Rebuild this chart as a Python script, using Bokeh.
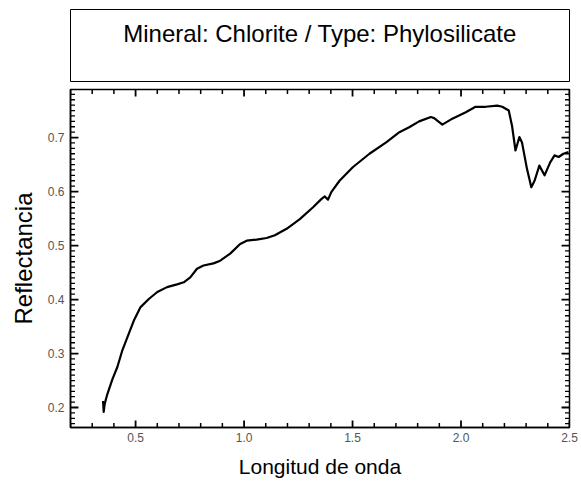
import numpy as np
from bokeh.plotting import figure
from bokeh.layouts import column
from bokeh.models import LinearAxis, SingleIntervalTicker, Range1d, ColumnDataSource, PrintfTickFormatter
from bokeh.core.properties import value
from bokeh.embed import file_html
from bokeh.resources import INLINE

title_text = ["Mineral: Chlorite / Type: Phylosilicate"]
x_label = "Longitud de onda"
y_label = "Reflectancia"

wavelength = [0.350, 0.353, 0.357, 0.363, 0.370, 0.393, 0.416, 0.439, 0.462, 0.492,
              0.523, 0.561, 0.600, 0.645, 0.691, 0.722, 0.752, 0.783, 0.813, 0.859,
              0.890, 0.936, 0.982, 1.012, 1.058, 1.104, 1.142, 1.196, 1.257, 1.318,
              1.356, 1.372, 1.387, 1.402, 1.440, 1.501, 1.578, 1.655, 1.716, 1.761,
              1.807, 1.861, 1.876, 1.914, 1.960, 2.022, 2.067, 2.113, 2.167, 2.190,
              2.220, 2.235, 2.251, 2.269, 2.281, 2.304, 2.324, 2.339, 2.361, 2.385,
              2.411, 2.431, 2.450, 2.472, 2.495]
reflectance = [0.212, 0.192, 0.205, 0.215, 0.225, 0.252, 0.275, 0.306, 0.330, 0.361,
               0.386, 0.401, 0.414, 0.423, 0.428, 0.432, 0.441, 0.457, 0.463, 0.467,
               0.472, 0.485, 0.503, 0.509, 0.511, 0.514, 0.519, 0.531, 0.549, 0.571,
               0.586, 0.591, 0.585, 0.599, 0.620, 0.645, 0.670, 0.691, 0.710, 0.719,
               0.730, 0.738, 0.736, 0.724, 0.735, 0.747, 0.757, 0.757, 0.759, 0.757,
               0.750, 0.722, 0.676, 0.701, 0.691, 0.642, 0.608, 0.620, 0.648, 0.630,
               0.654, 0.667, 0.664, 0.670, 0.673]

X_START, X_END = 0.2, 2.5
Y_START, Y_END = 0.163, 0.789
X_MAJOR, X_MINOR = 0.5, 0.1
Y_MAJOR, Y_MINOR = 0.1, 0.01

FONT = "Liberation Sans"
W = 578
FRAME_W, FRAME_H = 501, 338

# Title box
t = figure(width=W, height=84, output_backend="svg", toolbar_location=None,
           x_range=Range1d(0, 1), y_range=Range1d(0, 1),
           x_axis_location=None, y_axis_location=None,
           min_border_left=67, min_border_right=9, min_border_top=9, min_border_bottom=3)
t.grid.visible = False
t.outline_line_color = "black"
t.outline_line_width = 1
t.text(x=[0.5], y=[0.667], text=title_text, text_font=value(FONT), text_font_size="24px",
       text_align="center", text_baseline="middle", text_color="black")

# Main plot
p = figure(width=W, height=396, output_backend="svg", toolbar_location=None,
           x_range=Range1d(X_START, X_END), y_range=Range1d(Y_START, Y_END),
           x_axis_location=None, y_axis_location=None,
           min_border_left=70, min_border_right=4, min_border_top=5, min_border_bottom=50)
p.grid.visible = False
p.outline_line_color = "black"
p.outline_line_width = 1.5

src = ColumnDataSource(dict(x=wavelength, y=reflectance))
p.line("x", "y", source=src, line_color="black", line_width=2.2, line_join="round")

# inward tick marks on all four edges, from the tick intervals
x_all = np.round(np.arange(np.ceil(X_START / X_MINOR) * X_MINOR, X_END + 1e-9, X_MINOR), 3)
x_maj = np.array([v for v in x_all if abs(v / X_MAJOR - round(v / X_MAJOR)) < 1e-6])
x_min = np.array([v for v in x_all if abs(v / X_MAJOR - round(v / X_MAJOR)) >= 1e-6])
y_all = np.round(np.arange(np.ceil(Y_START / Y_MINOR) * Y_MINOR, Y_END + 1e-9, Y_MINOR), 3)
y_maj = np.array([v for v in y_all if abs(v / Y_MAJOR - round(v / Y_MAJOR)) < 1e-6])
y_min = np.array([v for v in y_all if abs(v / Y_MAJOR - round(v / Y_MAJOR)) >= 1e-6])

# tick lengths (pixels) converted to data units
ppx = (X_END - X_START) / FRAME_W
ppy = (Y_END - Y_START) / FRAME_H
MAJ, MIN = 7, 4.5

def vticks(xs, y0, sign, n):
    return dict(x0=xs, x1=xs, y0=np.full(len(xs), y0), y1=np.full(len(xs), y0 + sign * n * ppy))

def hticks(ys, x0, sign, n):
    return dict(x0=np.full(len(ys), x0), x1=np.full(len(ys), x0 + sign * n * ppx), y0=ys, y1=ys)

for d, lw in [(vticks(x_maj, Y_START, 1, MAJ), 1.8), (vticks(x_min, Y_START, 1, MIN), 1.5),
              (vticks(x_maj, Y_END, -1, MAJ), 1.8), (vticks(x_min, Y_END, -1, MIN), 1.5),
              (hticks(y_maj, X_START, 1, MAJ + 1), 1.8), (hticks(y_min, X_START, 1, MIN), 1.3),
              (hticks(y_maj, X_END, -1, MAJ + 1), 1.8), (hticks(y_min, X_END, -1, MIN), 1.3)]:
    p.segment(x0="x0", y0="y0", x1="x1", y1="y1", source=ColumnDataSource(d),
              line_color="black", line_width=lw)

common = dict(axis_line_color="black", axis_line_width=1.5,
              major_tick_in=0, major_tick_out=0, minor_tick_in=0, minor_tick_out=0,
              major_label_text_font=FONT, major_label_text_font_size="12px",
              major_label_text_color="#555555",
              axis_label_text_font=FONT, axis_label_text_font_style="normal",
              axis_label_text_color="black")

bottom = LinearAxis(ticker=SingleIntervalTicker(interval=X_MAJOR, num_minor_ticks=5),
                    formatter=PrintfTickFormatter(format="%.1f"),
                    axis_label=x_label, axis_label_text_font_size="21px",
                    major_label_standoff=5, axis_label_standoff=10, **common)
left = LinearAxis(ticker=SingleIntervalTicker(interval=Y_MAJOR, num_minor_ticks=10),
                  formatter=PrintfTickFormatter(format="%.1f"),
                  axis_label=y_label, axis_label_text_font_size="24px",
                  major_label_standoff=6, axis_label_standoff=8, **common)
p.add_layout(bottom, "below")
p.add_layout(left, "left")

layout = column(t, p, spacing=0)
open("out.html", "w").write(file_html(layout, INLINE))
